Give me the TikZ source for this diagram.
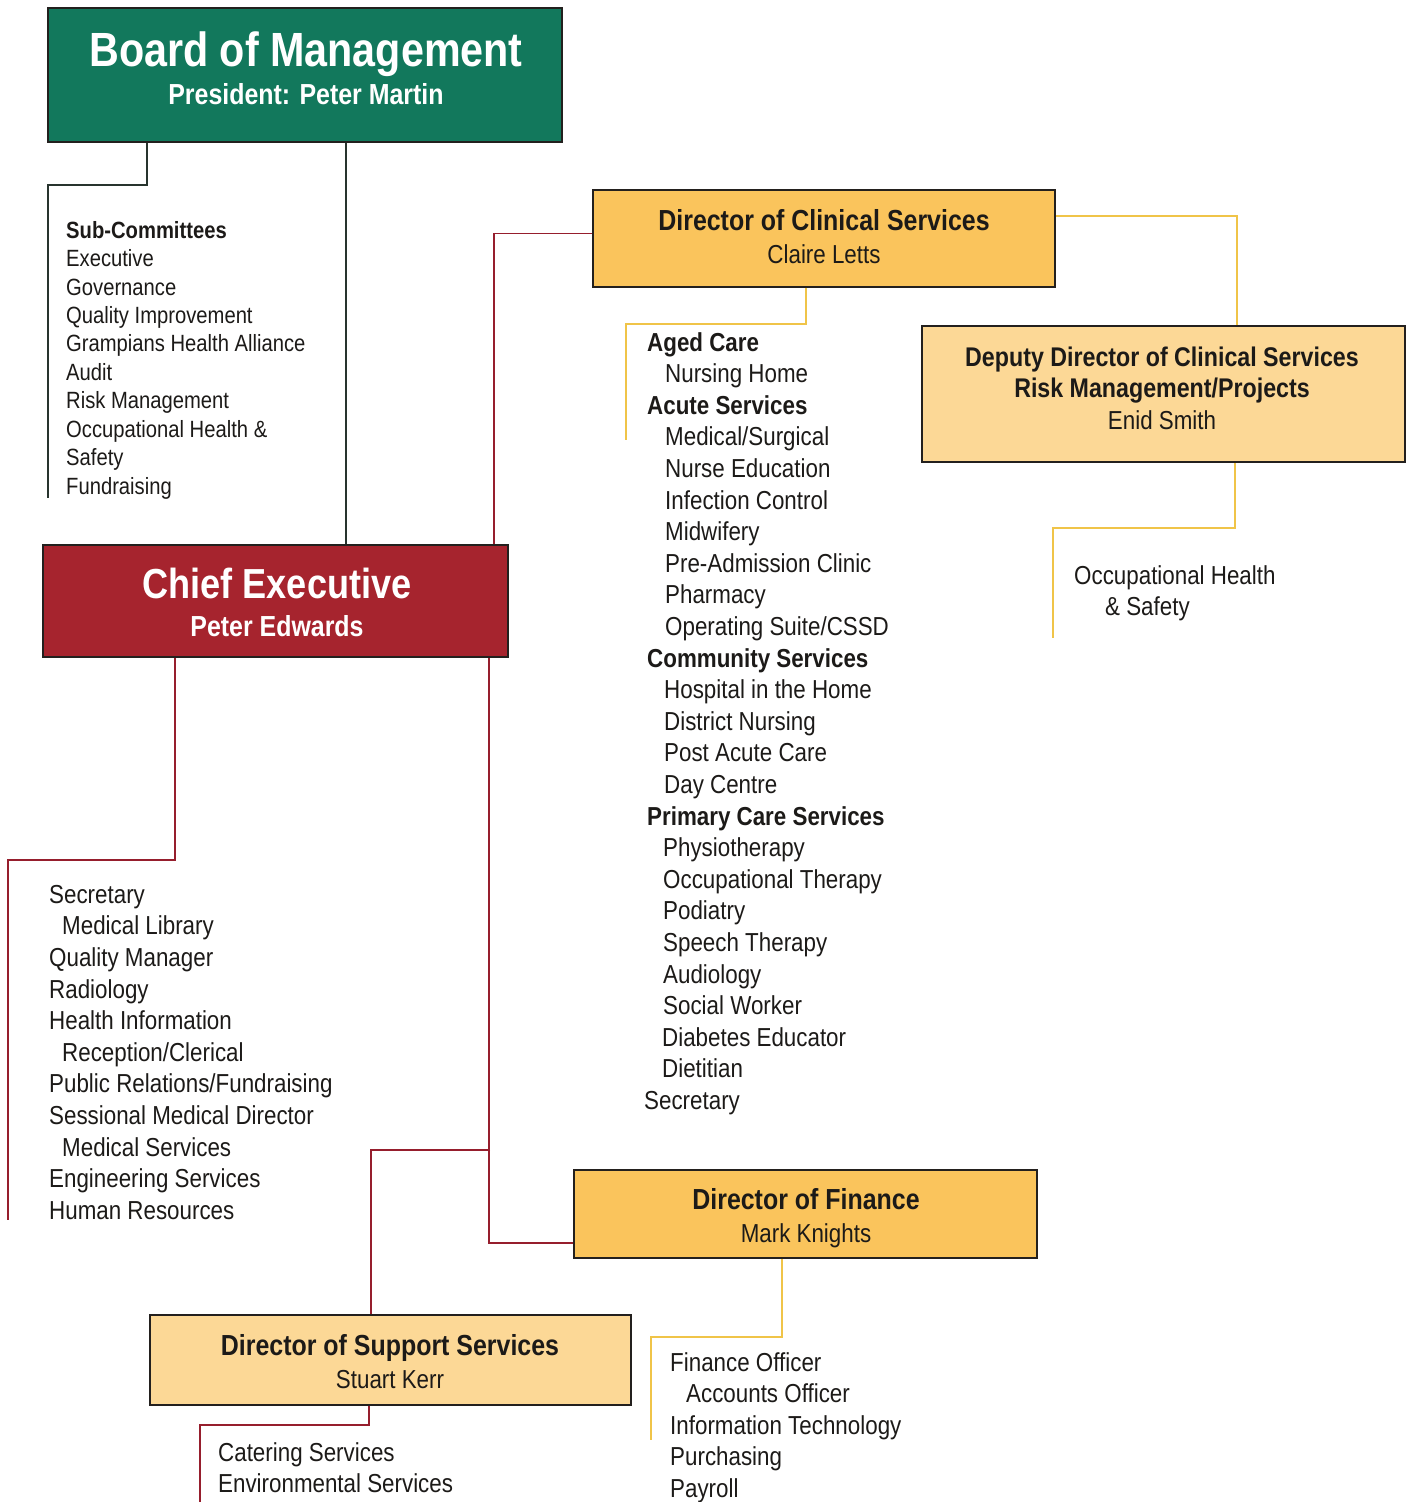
\documentclass[tikz,border=0pt]{standalone}
\usepackage{fontspec}
\setmainfont{Liberation Sans}[FakeStretch=0.86]
\definecolor{boardgreen}{RGB}{18,120,92}
\definecolor{ceored}{RGB}{166,36,46}
\definecolor{dirorange}{RGB}{250,196,92}
\definecolor{dirlight}{RGB}{252,216,150}
\definecolor{edgegray}{RGB}{35,32,30}
\definecolor{inkgray}{RGB}{28,26,24}
\definecolor{boardlinec}{RGB}{40,52,46}
\definecolor{redlinec}{RGB}{150,30,45}
\definecolor{yellinec}{RGB}{240,196,72}
\tikzset{
  box/.style={draw=edgegray,line width=1.8pt,inner sep=0pt,rectangle},
  headtext/.style={anchor=base,inner sep=0pt,text=inkgray,font=\fontsize{29}{31}\selectfont\bfseries},
  nametext/.style={anchor=base,inner sep=0pt,text=inkgray,font=\fontsize{26}{28}\selectfont},
  listtext/.style={anchor=north west,inner sep=0pt,align=left,text=inkgray,font=\fontsize{26}{31.6}\selectfont},
  boardline/.style={draw=boardlinec,line width=1.5pt},
  redline/.style={draw=redlinec,line width=1.5pt},
  yelline/.style={draw=yellinec,line width=1.5pt}
}
\begin{document}
\begin{tikzpicture}[x=1pt,y=-1pt]
\useasboundingbox (0,0) rectangle (1413,1502);
% --- boxes ---
\node[box,fill=boardgreen,minimum width=514pt,minimum height=134pt] (board) at (305,75) {};
\node[box,fill=ceored,minimum width=465pt,minimum height=112pt] (chief) at (275.5,601) {};
\node[box,fill=dirorange,minimum width=462pt,minimum height=97pt] (clinical) at (824,238.5) {};
\node[box,fill=dirlight,minimum width=483pt,minimum height=136pt] (deputy) at (1163.5,394) {};
\node[box,fill=dirorange,minimum width=463pt,minimum height=88pt] (finance) at (805.5,1214) {};
\node[box,fill=dirlight,minimum width=481pt,minimum height=90pt] (support) at (390.5,1360) {};
% --- box titles ---
\node[headtext,text=white,font=\fontsize{48}{50}\selectfont\bfseries] (boardhead) at (306,66) {Board of Management};
\node[headtext,text=white] (boardname) at (306,104) {President: Peter Martin};
\node[headtext,text=white,font=\fontsize{42}{44}\selectfont\bfseries] (chiefhead) at (277,598) {Chief Executive};
\node[headtext,text=white] (chiefname) at (277,636) {Peter Edwards};
\node[headtext] (clinhead) at (824,230) {Director of Clinical Services};
\node[nametext] (clinname) at (824,263) {Claire Letts};
\node[headtext,font=\fontsize{27}{29}\selectfont\bfseries] (dephead) at (1162,366) {Deputy Director of Clinical Services};
\node[headtext,font=\fontsize{27}{29}\selectfont\bfseries] (depsub) at (1162,397) {Risk Management/Projects};
\node[nametext] (depname) at (1162,429) {Enid Smith};
\node[headtext] (finhead) at (806,1209) {Director of Finance};
\node[nametext] (finname) at (806,1242) {Mark Knights};
\node[headtext] (suphead) at (390,1355) {Director of Support Services};
\node[nametext] (supname) at (390,1388) {Stuart Kerr};
% --- lists ---
\node[listtext,font=\fontsize{23.5}{28.44}\selectfont] (sublist) at (66,221) {\textbf{Sub-Committees}\\Executive\\Governance\\Quality Improvement\\Grampians Health Alliance\\Audit\\Risk Management\\Occupational Health \&\\Safety\\Fundraising};
\node[listtext] (clinlist) at (647,332) {\textbf{Aged Care}\\\hspace*{18pt}Nursing Home\\\textbf{Acute Services}\\\hspace*{18pt}Medical/Surgical\\\hspace*{18pt}Nurse Education\\\hspace*{18pt}Infection Control\\\hspace*{18pt}Midwifery\\\hspace*{18pt}Pre-Admission Clinic\\\hspace*{18pt}Pharmacy\\\hspace*{18pt}Operating Suite/CSSD\\\textbf{Community Services}\\\hspace*{17pt}Hospital in the Home\\\hspace*{17pt}District Nursing\\\hspace*{17pt}Post Acute Care\\\hspace*{17pt}Day Centre\\\textbf{Primary Care Services}\\\hspace*{16pt}Physiotherapy\\\hspace*{16pt}Occupational Therapy\\\hspace*{16pt}Podiatry\\\hspace*{16pt}Speech Therapy\\\hspace*{16pt}Audiology\\\hspace*{16pt}Social Worker\\\hspace*{15pt}Diabetes Educator\\\hspace*{15pt}Dietitian\\\hspace*{-3pt}Secretary};
\node[listtext] (ohslist) at (1074,565) {Occupational Health\\\hspace*{31pt}\& Safety};
\node[listtext] (ceolist) at (49,885) {Secretary\\\hspace*{13pt}Medical Library\\Quality Manager\\Radiology\\Health Information\\\hspace*{13pt}Reception/Clerical\\Public Relations/Fundraising\\Sessional Medical Director\\\hspace*{13pt}Medical Services\\Engineering Services\\Human Resources};
\node[listtext] (finlist) at (670,1352) {Finance Officer\\\hspace*{16pt}Accounts Officer\\Information Technology\\Purchasing\\Payroll};
\node[listtext] (suplist) at (218,1442) {Catering Services\\Environmental Services};
% --- connector points ---
\coordinate (board2sub) at ([xshift=100pt]board.south west);
\coordinate (board2ceo) at ([xshift=299pt]board.south west);
\coordinate (subknee) at (48,185);
\coordinate (subend) at (48,498);
\coordinate (clin2ceo) at ([yshift=5pt]clinical.west);
\coordinate (ceo2clin) at ([xshift=452pt]chief.north west);
\coordinate (ceo2fin) at ([xshift=447pt]chief.south west);
\coordinate (ceo2sec) at ([xshift=133pt]chief.south west);
\coordinate (secknee) at (8,860);
\coordinate (secend) at (8,1220);
\coordinate (supjoint) at (490,1150);
\coordinate (suptop) at ([xshift=222pt]support.north west);
\coordinate (sup2cat) at ([xshift=220pt]support.south west);
\coordinate (catknee) at (200,1425);
\coordinate (catend) at (200,1502);
\coordinate (clin2list) at ([xshift=214pt]clinical.south west);
\coordinate (clinknee) at (626,324);
\coordinate (clinend) at (626,440);
\coordinate (clin2dep) at ([yshift=72pt]clinical.south east);
\coordinate (deptop) at ([xshift=316pt]deputy.north west);
\coordinate (dep2ohs) at ([xshift=314pt]deputy.south west);
\coordinate (ohsknee) at (1053,528);
\coordinate (ohsend) at (1053,638);
\coordinate (fin2list) at ([xshift=209pt]finance.south west);
\coordinate (finknee) at (651,1337);
\coordinate (finend) at (651,1440);
% --- board lines ---
\draw[boardline] (board2sub) |- (subknee) -- (subend);
\draw[boardline] (board2ceo) -- (board2ceo |- chief.north);
% --- chief executive lines ---
\draw[redline] (clin2ceo) -| (ceo2clin);
\draw[redline] (ceo2fin) |- ([yshift=16pt]finance.south west);
\draw[redline] (supjoint) -| (suptop);
\draw[redline] (ceo2sec) |- (secknee) -- (secend);
\draw[redline] (sup2cat) |- (catknee) -- (catend);
% --- director lines ---
\draw[yelline] (clin2list) |- (clinknee) -- (clinend);
\draw[yelline] (clin2dep) -| (deptop);
\draw[yelline] (dep2ohs) |- (ohsknee) -- (ohsend);
\draw[yelline] (fin2list) |- (finknee) -- (finend);
\end{tikzpicture}
\end{document}
